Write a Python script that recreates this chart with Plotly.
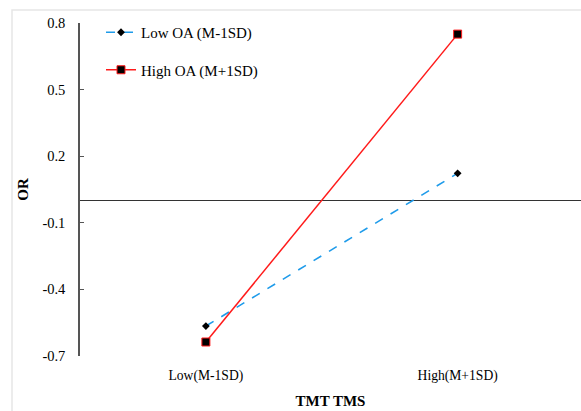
import plotly.graph_objects as go

categories = ["Low(M-1SD)", "High(M+1SD)"]
low_oa = [-0.565, 0.123]
high_oa = [-0.637, 0.750]
y_ticks = [-0.7, -0.4, -0.1, 0.2, 0.5, 0.8]
y_tick_labels = ["-0.7", "-0.4", "-0.1", "0.2", "0.5", "0.8"]
series_names = ["Low OA (M-1SD)", "High OA (M+1SD)"]

FONT = "Liberation Serif, Times New Roman, serif"

fig = go.Figure()
fig.add_trace(go.Scatter(
    x=categories, y=low_oa, name=series_names[0], mode="lines+markers",
    line=dict(color="#1E9BEA", width=1.6, dash="dash"),
    marker=dict(symbol="diamond", size=6, color="black"),
    legendgroup="a",
))
fig.add_trace(go.Scatter(
    x=categories, y=high_oa, name=series_names[1], mode="lines+markers",
    line=dict(color="#FF1A1A", width=1.5),
    marker=dict(symbol="square", size=8, color="black", line=dict(color="#FF1A1A", width=1)),
    legendgroup="b",
))

W, H = 581, 411
ml, mr, mt, mb = 80, 0, 23, 55
pw, ph = W - ml - mr, H - mt - mb

def px_to_paper_x(px):
    return (px - ml) / pw

def px_to_paper_y(py):
    return (H - mb - py) / ph

fig.add_shape(type="rect", xref="paper", yref="paper",
              x0=px_to_paper_x(12), x1=px_to_paper_x(590),
              y0=px_to_paper_y(420), y1=px_to_paper_y(10),
              line=dict(color="#E6E6E6", width=1.5), layer="below")

fig.update_layout(
    width=W, height=H,
    margin=dict(l=ml, r=mr, t=mt, b=mb),
    paper_bgcolor="white", plot_bgcolor="white",
    font=dict(family=FONT, color="black", size=13),
    showlegend=True,
    legend=dict(x=px_to_paper_x(101), y=px_to_paper_y(16), xanchor="left", yanchor="top",
                bgcolor="rgba(0,0,0,0)", font=dict(family=FONT, size=15),
                tracegroupgap=15, itemwidth=30),
    xaxis=dict(type="category", range=[-0.5, 1.49], showgrid=False, zeroline=False,
               showline=False, ticks="", tickfont=dict(family=FONT, size=13.6),
               ticklabelstandoff=9,
               title=dict(text="<b>TMT TMS</b>", font=dict(family=FONT, size=15), standoff=12)),
    yaxis=dict(range=[-0.7, 0.8], tickvals=y_ticks, ticktext=y_tick_labels,
               showgrid=False, showline=True, linecolor="#555555", linewidth=1.5,
               ticks="inside", ticklen=4, tickcolor="#555555", tickwidth=1,
               zeroline=True, zerolinecolor="#333333", zerolinewidth=1.2,
               tickfont=dict(family=FONT, size=14.5), ticklabelstandoff=10,
               title=dict(text="<b>OR</b>", font=dict(family=FONT, size=15), standoff=10)),
)

fig.write_html("out.html", post_script="document.body.style.margin='0';",
               config={"displayModeBar": False})
